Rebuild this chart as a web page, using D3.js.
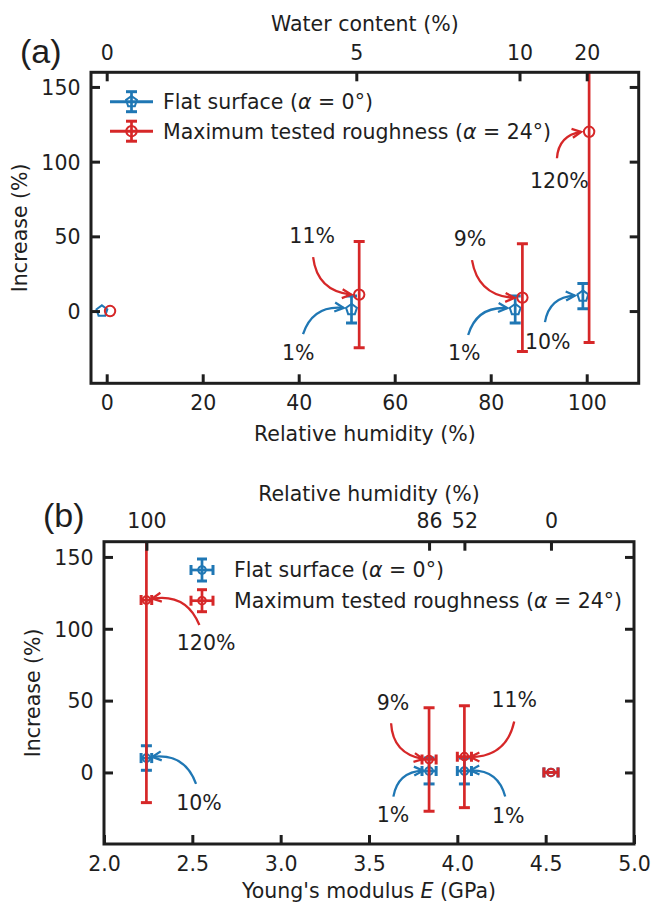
<!DOCTYPE html>
<html>
<head>
<meta charset="utf-8">
<script src="https://cdn.jsdelivr.net/npm/d3@7"></script>
<style>
  body { margin: 0; background: #fff; }
  svg { display: block; }
</style>
</head>
<body>
<svg width="652" height="905"></svg>
<script>
// data
const rh = [0, 52, 86, 100]                 // relative humidity (%)
const water = [0, 5, 10, 20]                // water content (%)
const youngs = [4.53, 4.04, 3.84, 2.24]     // Young's modulus (GPa)
const youngsErr = [0.04, 0.04, 0.04, 0.03]
const rhFlat = [-1, 51, 85.1, 99.2]         // plotted x of flat series in (a)
const rhRough = [0.7, 52.6, 86.6, 100.5]    // plotted x of rough series in (a)
const flatInc = [0, 1, 1, 10]
const flatErr = [0, 9, 9, 8.5]
const roughInc = [0, 11, 9, 120]
const roughErr = [0, 35.5, 36, 141]
const flatLabels = ['', '1%', '1%', '10%']
const roughLabels = ['', '11%', '9%', '120%']

// annotation text / arrow start positions in data units
const notesA = [
  { s: 'rough', i: 1, tx: 42.8, ty: 50.8, sx: 43.0, sy: 36.1, rad: 0.4 },
  { s: 'flat', i: 1, tx: 39.9, ty: -28.1, sx: 40.9, sy: -15.4, rad: -0.4 },
  { s: 'rough', i: 2, tx: 75.7, ty: 48.2, sx: 76.1, sy: 34.1, rad: 0.4 },
  { s: 'flat', i: 2, tx: 74.5, ty: -28.1, sx: 75.3, sy: -16, rad: -0.4 },
  { s: 'flat', i: 3, tx: 91.9, ty: -20.7, sx: 91.3, sy: -7.4, rad: -0.4 },
  { s: 'rough', i: 3, tx: 94.3, ty: 87.6, sx: 93.8, sy: 102.3, rad: -0.4 }
]
const notesB = [
  { s: 'rough', i: 3, tx: 2.578, ty: 90.1, sx: 2.54, sy: 102.6, rad: 0.4 },
  { s: 'flat', i: 3, tx: 2.538, ty: -21.2, sx: 2.521, sy: -8.0, rad: 0.4 },
  { s: 'rough', i: 2, tx: 3.636, ty: 48.6, sx: 3.625, sy: 34.2, rad: 0.4 },
  { s: 'flat', i: 2, tx: 3.636, ty: -29.6, sx: 3.638, sy: -16.8, rad: -0.4 },
  { s: 'rough', i: 1, tx: 4.322, ty: 50.5, sx: 4.322, sy: 35.4, rad: -0.4 },
  { s: 'flat', i: 1, tx: 4.288, ty: -30.3, sx: 4.271, sy: -16.8, rad: 0.4 }
]

const svg = d3.select('svg')
const ink = '#1e1e1e'
const font = "'DejaVu Sans', sans-serif"
const tagFont = "'Liberation Sans', Arial, sans-serif"
const blue = '#1f77b4'
const red = '#d62728'

const pentagon = r => {
  const pts = d3.range(5).map(k => {
    const a = -Math.PI / 2 + k * 2 * Math.PI / 5
    return [r * Math.cos(a), r * Math.sin(a)]
  })
  return 'M' + pts.join('L') + 'Z'
}

function drawMarker(g, shape, cx, cy, color, r) {
  if (shape === 'pent') {
    g.append('path').attr('d', pentagon(r + 0.5))
      .attr('transform', `translate(${cx},${cy})`)
      .attr('fill', 'none').attr('stroke', color).attr('stroke-width', 2)
  } else {
    g.append('circle').attr('cx', cx).attr('cy', cy).attr('r', r)
      .attr('fill', 'none').attr('stroke', color).attr('stroke-width', 2)
  }
}

function vErr(g, cx, y0, y1, color, cap) {
  g.append('line').attr('x1', cx).attr('x2', cx).attr('y1', y0).attr('y2', y1)
    .attr('stroke', color).attr('stroke-width', 2.7)
  for (const yy of [y0, y1]) {
    g.append('line').attr('x1', cx - cap).attr('x2', cx + cap).attr('y1', yy).attr('y2', yy)
      .attr('stroke', color).attr('stroke-width', 3)
  }
}

function hErr(g, cy, x0, x1, color, cap) {
  g.append('line').attr('x1', x0).attr('x2', x1).attr('y1', cy).attr('y2', cy)
    .attr('stroke', color).attr('stroke-width', 2.7)
  for (const xx of [x0, x1]) {
    g.append('line').attr('x1', xx).attr('x2', xx).attr('y1', cy - cap).attr('y2', cy + cap)
      .attr('stroke', color).attr('stroke-width', 3)
  }
}

function arrow(g, x0, y0, tx, ty, rad, shrink, color) {
  // arc3-like curve from (x0,y0) towards target, shortened by shrink
  let dx = tx - x0, dy = ty - y0
  let cx = (x0 + tx) / 2 - rad * dy, cy = (y0 + ty) / 2 + rad * dx
  let ux = tx - cx, uy = ty - cy, len = Math.hypot(ux, uy)
  const ex = tx - ux / len * shrink, ey = ty - uy / len * shrink
  dx = ex - x0; dy = ey - y0
  cx = (x0 + ex) / 2 - rad * dy; cy = (y0 + ey) / 2 + rad * dx
  g.append('path').attr('d', `M${x0},${y0}Q${cx},${cy} ${ex},${ey}`)
    .attr('fill', 'none').attr('stroke', color).attr('stroke-width', 2.3)
  ux = ex - cx; uy = ey - cy; len = Math.hypot(ux, uy)
  ux /= len; uy /= len
  const hl = 9, hw = 4.5
  const p1 = [ex - ux * hl - uy * hw, ey - uy * hl + ux * hw]
  const p2 = [ex - ux * hl + uy * hw, ey - uy * hl - ux * hw]
  g.append('path').attr('d', `M${p1}L${ex},${ey}L${p2}`)
    .attr('fill', 'none').attr('stroke', color).attr('stroke-width', 2.3)
}

function styleAxis(g) {
  g.select('.domain').remove()
  g.selectAll('.tick line').attr('stroke', ink).attr('stroke-width', 3)
  g.selectAll('.tick text').attr('fill', ink)
    .style('font-size', '20.5px').style('font-family', font)
}

function addText(parent, x, y, parts, opts = {}) {
  const t = parent.append('text').attr('x', x).attr('y', y)
    .attr('fill', ink).style('font-family', opts.family || font)
    .style('font-size', (opts.size || 20.5) + 'px')
    .attr('text-anchor', opts.anchor || 'start')
  if (opts.rotate) t.attr('transform', `rotate(-90,${x},${y})`)
  if (opts.dy) t.attr('dy', opts.dy)
  parts.forEach(p => {
    const s = t.append('tspan').text(p[0])
    if (p[1]) s.style('font-style', 'italic')
  })
  return t
}

function panel(cfg) {
  const { l, r, t, b } = cfg.box
  const x = d3.scaleLinear().domain(cfg.xDomain).range([l, r])
  const y = d3.scaleLinear().domain(cfg.yDomain).range([b, t])
  const root = svg.append('g')

  const clipId = 'clip-' + cfg.name
  root.append('clipPath').attr('id', clipId)
    .append('rect').attr('x', l).attr('y', t).attr('width', r - l).attr('height', b - t)

  const data = root.append('g').attr('clip-path', `url(#${clipId})`)
  const series = [
    { key: 'flat', xs: cfg.flatX, ys: flatInc, err: flatErr, color: blue },
    { key: 'rough', xs: cfg.roughX, ys: roughInc, err: roughErr, color: red }
  ]
  series.forEach(s => {
    s.xs.forEach((xv, i) => {
      const px = x(xv), py = y(s.ys[i])
      if (s.err[i] > 0) vErr(data, px, y(s.ys[i] - s.err[i]), y(s.ys[i] + s.err[i]), s.color, 5.5)
      if (cfg.xErr) hErr(data, py, x(xv - cfg.xErr[i]), x(xv + cfg.xErr[i]), s.color, 5)
      drawMarker(data, cfg.shape[s.key], px, py, s.color, cfg.markerR)
    })
  })

  // annotations
  const ann = root.append('g')
  cfg.notes.forEach(n => {
    const s = n.s === 'flat' ? series[0] : series[1]
    const labels = n.s === 'flat' ? flatLabels : roughLabels
    arrow(ann, x(n.sx), y(n.sy), x(s.xs[n.i]), y(s.ys[n.i]), n.rad, cfg.shrink, s.color)
    addText(ann, x(n.tx), y(n.ty), [[labels[n.i]]], { anchor: 'middle', dy: '0.36em' })
  })

  // axes
  const gb = root.append('g').attr('transform', `translate(0,${b})`)
    .call(d3.axisBottom(x).tickValues(cfg.xTicks).tickFormat(cfg.xFormat).tickSize(-9))
  styleAxis(gb)
  gb.selectAll('.tick text').attr('y', 27).attr('dy', null)

  const gt = root.append('g').attr('transform', `translate(0,${t})`)
    .call(d3.axisTop(x).tickValues(cfg.topX).tickFormat((d, i) => cfg.topLabels[i]).tickSize(-9))
  styleAxis(gt)
  gt.selectAll('.tick text').attr('y', cfg.topPad).attr('dy', null)

  const gl = root.append('g').attr('transform', `translate(${l},0)`)
    .call(d3.axisLeft(y).tickValues([0, 50, 100, 150]).tickSize(-9))
  styleAxis(gl)
  gl.selectAll('.tick text').attr('x', -10.5).attr('dy', '0.36em')

  const gr = root.append('g').attr('transform', `translate(${r},0)`)
    .call(d3.axisRight(y).tickValues([0, 50, 100, 150]).tickSize(-9).tickFormat(''))
  styleAxis(gr)

  root.append('rect').attr('x', l).attr('y', t).attr('width', r - l).attr('height', b - t)
    .attr('fill', 'none').attr('stroke', ink).attr('stroke-width', 3)

  // titles
  const mid = (l + r) / 2
  addText(root, mid, b + cfg.bottomPad, cfg.bottomTitle, { anchor: 'middle' })
  addText(root, mid, t - 41, cfg.topTitle, { anchor: 'middle' })
  addText(root, cfg.yLabelX, (t + b) / 2, [['Increase (%)']], { anchor: 'middle', rotate: true })
  addText(root, cfg.tagX, cfg.tagY, [[cfg.tag]], { size: 34, family: tagFont })

  // legend
  const lg = root.append('g')
  const legendRows = [
    { key: 'flat', color: blue, text: [['Flat surface ('], ['α', true], [' = 0°)']] },
    { key: 'rough', color: red, text: [['Maximum tested roughness ('], ['α', true], [' = 24°)']] }
  ]
  legendRows.forEach((row, i) => {
    const hy = cfg.legend.y + i * cfg.legend.dy
    const hx = cfg.legend.x
    if (cfg.xErr) {
      hErr(lg, hy, hx - 11, hx + 11, row.color, 5)
      vErr(lg, hx, hy - 11, hy + 11, row.color, 5)
    } else {
      lg.append('line').attr('x1', hx - 21.5).attr('x2', hx + 21.5).attr('y1', hy).attr('y2', hy)
        .attr('stroke', row.color).attr('stroke-width', 3)
      vErr(lg, hx, hy - 10, hy + 10, row.color, 5.5)
    }
    drawMarker(lg, cfg.shape[row.key], hx, hy, row.color, cfg.markerR)
    addText(lg, cfg.legend.tx, hy, row.text, { dy: '0.36em' })
  })
}

panel({
  name: 'a', tag: '(a)', tagX: 20, tagY: 63,
  box: { l: 91, r: 638.7, t: 72.3, b: 383.3 },
  xDomain: [-3.27, 110.83], yDomain: [-48.35, 159.8],
  xTicks: [0, 20, 40, 60, 80, 100], xFormat: d3.format('d'),
  topX: rh, topLabels: water, topPad: -12,
  flatX: rhFlat, roughX: rhRough, xErr: null,
  shape: { flat: 'pent', rough: 'circle' }, markerR: 5.2, shrink: 8,
  notes: notesA,
  topTitle: [['Water content (%)']], bottomTitle: [['Relative humidity (%)']],
  bottomPad: 58,
  yLabelX: 27,
  legend: { x: 131.5, y: 101.7, dy: 29.5, tx: 163 }
})

panel({
  name: 'b', tag: '(b)', tagX: 43, tagY: 527,
  box: { l: 104, r: 634, t: 541.7, b: 844 },
  xDomain: [2, 5], yDomain: [-49.8, 160.6],
  xTicks: [2, 2.5, 3, 3.5, 4, 4.5, 5], xFormat: d3.format('.1f'),
  topX: youngs, topLabels: rh, topPad: -14,
  flatX: youngs, roughX: youngs, xErr: youngsErr,
  shape: { flat: 'circle', rough: 'circle' }, markerR: 3.8, shrink: 6,
  notes: notesB,
  topTitle: [['Relative humidity (%)']], bottomTitle: [["Young's modulus "], ['E', true], [' (GPa)']],
  bottomPad: 54,
  yLabelX: 40,
  legend: { x: 202, y: 570, dy: 30.7, tx: 234 }
})
</script>
</body>
</html>
